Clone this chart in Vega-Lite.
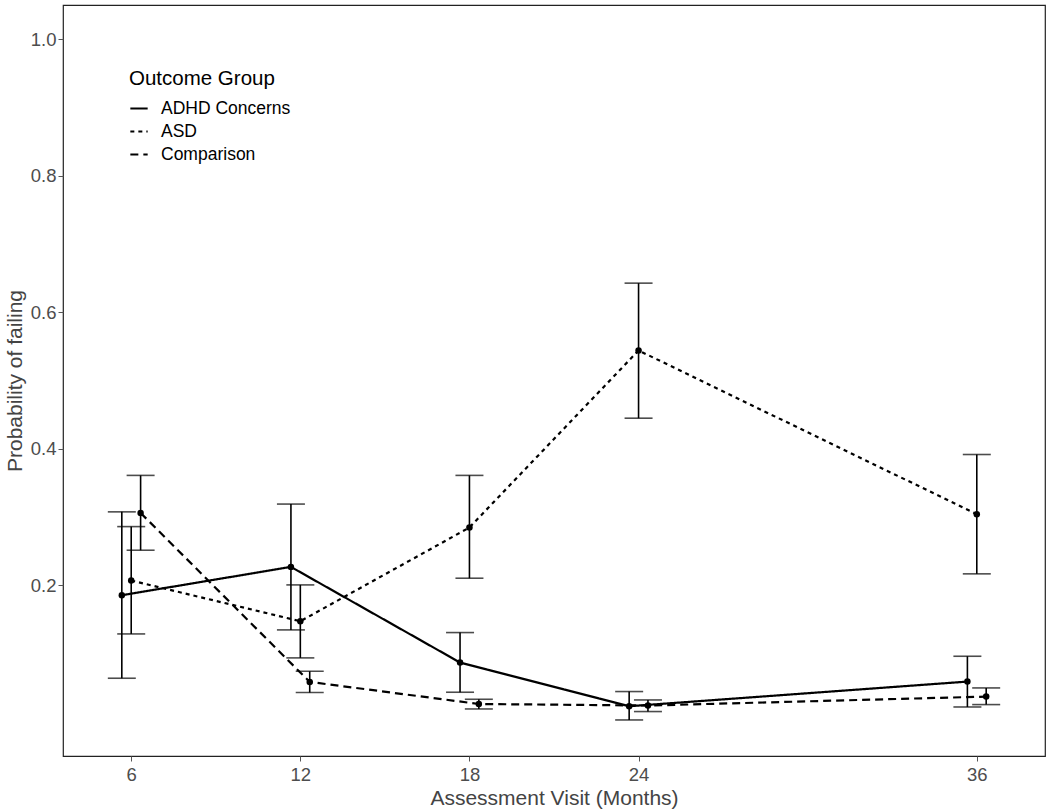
{
  "$schema": "https://vega.github.io/schema/vega-lite/v6.json",
  "width": 982,
  "height": 751,
  "autosize": {"type": "none"},
  "padding": {"left": 63, "top": 5, "right": 5, "bottom": 55},
  "background": "white",
  "config": {
    "font": "Liberation Sans",
    "view": {"stroke": "#222", "strokeWidth": 1.2},
    "axis": {"grid": false, "domain": false, "tickColor": "#555", "tickSize": 5, "labelColor": "#4d4d4d", "labelFontSize": 18.5, "titleColor": "#444", "titleFontSize": 21, "titleFontWeight": "normal"}
  },
  "data": {
    "values": [
      {"group": "ADHD Concerns", "month": 6, "p": 0.1855, "lo": 0.0639, "hi": 0.3076},
      {"group": "ADHD Concerns", "month": 12, "p": 0.227, "lo": 0.1347, "hi": 0.319},
      {"group": "ADHD Concerns", "month": 18, "p": 0.0869, "lo": 0.0434, "hi": 0.1308},
      {"group": "ADHD Concerns", "month": 24, "p": 0.0229, "lo": 0.0028, "hi": 0.0444},
      {"group": "ADHD Concerns", "month": 36, "p": 0.059, "lo": 0.0218, "hi": 0.0961},
      {"group": "ASD", "month": 6, "p": 0.207, "lo": 0.1288, "hi": 0.286},
      {"group": "ASD", "month": 12, "p": 0.1474, "lo": 0.0937, "hi": 0.2006},
      {"group": "ASD", "month": 18, "p": 0.2847, "lo": 0.2104, "hi": 0.361},
      {"group": "ASD", "month": 24, "p": 0.544, "lo": 0.4448, "hi": 0.6426},
      {"group": "ASD", "month": 36, "p": 0.3042, "lo": 0.2168, "hi": 0.3916},
      {"group": "Comparison", "month": 6, "p": 0.306, "lo": 0.2514, "hi": 0.361},
      {"group": "Comparison", "month": 12, "p": 0.0585, "lo": 0.0429, "hi": 0.0741},
      {"group": "Comparison", "month": 18, "p": 0.0262, "lo": 0.0189, "hi": 0.0331},
      {"group": "Comparison", "month": 24, "p": 0.0239, "lo": 0.0151, "hi": 0.0321},
      {"group": "Comparison", "month": 36, "p": 0.037, "lo": 0.0253, "hi": 0.0497}
    ]
  },
  "transform": [
    {"calculate": "datum.month + (datum.group === 'ADHD Concerns' ? -1/3 : (datum.group === 'ASD' ? 0 : 1/3))", "as": "xd"}
  ],
  "encoding": {
    "x": {
      "field": "xd", "type": "quantitative",
      "scale": {"domain": [3.58, 38.42], "nice": false, "zero": false},
      "axis": {"values": [6, 12, 18, 24, 36], "format": "d", "title": "Assessment Visit (Months)", "titlePadding": 4, "labelPadding": 4}
    }
  },
  "layer": [
    {
      "mark": {"type": "errorbar", "color": "black", "thickness": 1.6, "ticks": {"size": 28, "color": "black"}, "rule": {"color": "black"}},
      "encoding": {
        "y": {"field": "lo", "type": "quantitative", "scale": {"domain": [-0.05, 1.05], "nice": false, "zero": false}, "title": "Probability of failing"},
        "y2": {"field": "hi"},
        "detail": {"field": "group"}
      }
    },
    {
      "mark": {"type": "line", "color": "black", "strokeWidth": 2.2},
      "encoding": {
        "y": {"field": "p", "type": "quantitative"},
        "strokeDash": {
          "field": "group", "type": "nominal",
          "scale": {"domain": ["ADHD Concerns", "ASD", "Comparison"], "range": [[1, 0], [4, 4], [8, 5]]},
          "legend": {
            "title": "Outcome Group", "orient": "none", "legendX": 66, "legendY": 64,
            "titleFontSize": 20.5, "titleFontWeight": "normal", "titleColor": "black", "titlePadding": 9,
            "labelFontSize": 17.5, "labelColor": "black", "labelOffset": 12,
            "symbolType": "stroke", "symbolStrokeColor": "black", "symbolStrokeWidth": 2.2, "symbolSize": 300, "rowPadding": 4
          }
        }
      }
    },
    {
      "mark": {"type": "circle", "color": "black", "opacity": 1, "size": 42},
      "encoding": {
        "y": {"field": "p", "type": "quantitative", "axis": {"values": [0.2, 0.4, 0.6, 0.8, 1.0], "format": ".1f", "title": "Probability of failing", "titlePadding": 5}}
      }
    }
  ]
}
